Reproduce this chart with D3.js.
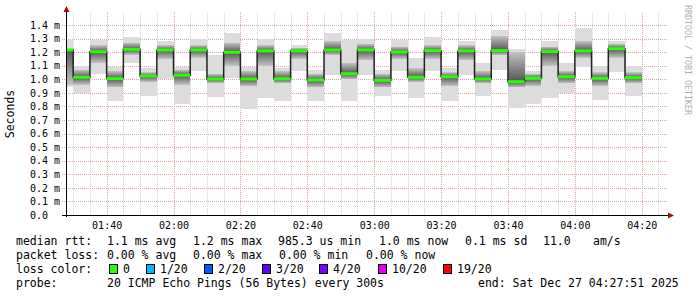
<!DOCTYPE html>
<html>
<head>
<meta charset="utf-8">
<script src="https://cdn.jsdelivr.net/npm/d3@7"></script>
<style>
  body { margin: 0; background: #fff; }
  svg text { font-family: "DejaVu Sans Mono", monospace; }
</style>
</head>
<body>
<div id="chart"></div>
<script>
// end time of each 5 minute step (UTC, Dec 27 2025)
var times = ["01:30","01:35","01:40","01:45","01:50","01:55","02:00","02:05","02:10","02:15",
             "02:20","02:25","02:30","02:35","02:40","02:45","02:50","02:55","03:00","03:05",
             "03:10","03:15","03:20","03:25","03:30","03:35","03:40","03:45","03:50","03:55",
             "04:00","04:05","04:10","04:15","04:20"];
// median rtt in ms
var median = [1.216,1.015,1.203,1.005,1.220,1.024,1.216,1.030,1.216,1.002,
              1.199,1.002,1.209,1.004,1.209,0.995,1.216,1.041,1.216,0.992,
              1.201,1.015,1.211,1.019,1.209,1.002,1.211,0.982,1.007,1.204,
              1.019,1.209,1.007,1.225,1.012];
// outer smoke range (min / max ping)
var smokeLo = [0.94,0.90,1.04,0.84,1.12,0.88,1.00,0.82,1.06,0.87,
               1.01,0.78,0.86,0.84,1.06,0.84,1.03,0.84,1.03,0.88,
               1.06,0.86,1.06,0.84,1.03,0.88,1.07,0.79,0.82,0.86,
               0.90,1.09,0.85,1.05,0.88];
var smokeHi = [1.29,1.10,1.29,1.09,1.31,1.08,1.28,1.09,1.30,1.18,
               1.34,1.09,1.30,1.08,1.25,1.07,1.34,1.29,1.30,1.07,
               1.29,1.16,1.31,1.08,1.28,1.12,1.36,1.22,1.06,1.28,
               1.12,1.38,1.10,1.28,1.10];
// denser inner part of the smoke
var coreLo = [0.96,0.96,1.12,0.94,1.18,0.98,1.15,0.96,1.16,0.97,
              1.10,0.95,1.10,0.97,1.15,0.94,1.18,1.00,1.14,0.94,
              1.15,0.98,1.15,0.95,1.14,0.97,1.18,0.94,0.95,1.10,
              0.97,1.16,0.95,1.16,0.97];
var coreHi = [1.22,1.07,1.25,1.06,1.27,1.05,1.25,1.07,1.25,1.04,
              1.27,1.06,1.25,1.06,1.23,1.04,1.28,1.12,1.26,1.04,
              1.24,1.08,1.25,1.05,1.25,1.06,1.32,1.20,1.04,1.24,
              1.06,1.28,1.05,1.26,1.05];
var yTicks = [0,0.1,0.2,0.3,0.4,0.5,0.6,0.7,0.8,0.9,1.0,1.1,1.2,1.3,1.4];
var lossColors = ["#26ff00","#00b8ff","#0059ff","#5e00ff","#7e00ff","#dd00ff","#ff0000"];
var lossLabels = ["0","1/20","2/20","3/20","4/20","10/20","19/20"];

var W = 697, H = 297;
var parse = function (s) { return new Date("2025-12-27T" + s + ":00Z"); };
var t0 = new Date("2025-12-27T01:27:51Z"), t1 = new Date("2025-12-27T04:27:51Z");

var svg = d3.select("#chart").append("svg").attr("width", W).attr("height", H);

var x = d3.scaleUtc().domain([t0, t1]).range([66, 668]);
var y = d3.scaleLinear().domain([0, 1.5]).range([215, 11.4]);

var bars = times.map(function (t, i) {
    var end = parse(t);
    var start = new Date(end.getTime() - 300000);
    if (start < t0) start = t0;
    return { x0: x(start), x1: x(end), med: median[i], lo: smokeLo[i], hi: smokeHi[i], clo: coreLo[i], chi: coreHi[i] };
});

// grid
var grid = svg.append("g");
var minor = d3.utcMinute.every(5).range(t0, t1);
grid.selectAll("line.v").data(minor).enter().append("line")
    .attr("x1", function (d) { return Math.round(x(d)) + 0.5; })
    .attr("x2", function (d) { return Math.round(x(d)) + 0.5; })
    .attr("y1", 215).attr("y2", 12)
    .attr("stroke", function (d) { return d.getUTCMinutes() % 20 == 0 ? "#e5a3a3" : "#d4d4d4"; })
    .attr("stroke-dasharray", "1,1");
grid.selectAll("line.h").data(yTicks.slice(1)).enter().append("line")
    .attr("x1", 62).attr("x2", 668)
    .attr("y1", function (d) { return Math.round(y(d)) + 0.5; })
    .attr("y2", function (d) { return Math.round(y(d)) + 0.5; })
    .attr("stroke", "#e5a3a3")
    .attr("stroke-dasharray", "1,1");

// smoke
var defs = svg.append("defs");
var smoke = svg.append("g").attr("shape-rendering", "crispEdges");
bars.forEach(function (b, i) {
    smoke.append("rect")
        .attr("x", b.x0).attr("width", b.x1 - b.x0)
        .attr("y", y(b.hi)).attr("height", y(b.lo) - y(b.hi))
        .attr("fill", "#dcdcdc");
    var f = (b.chi - b.med) / (b.chi - b.clo);
    var g = defs.append("linearGradient").attr("id", "g" + i)
        .attr("x1", 0).attr("x2", 0).attr("y1", 0).attr("y2", 1);
    g.append("stop").attr("offset", 0).attr("stop-color", "#c2c2c2");
    g.append("stop").attr("offset", f).attr("stop-color", "#555");
    g.append("stop").attr("offset", 1).attr("stop-color", "#c2c2c2");
    smoke.append("rect")
        .attr("x", b.x0).attr("width", b.x1 - b.x0)
        .attr("y", y(b.chi)).attr("height", y(b.clo) - y(b.chi))
        .attr("fill", "url(#g" + i + ")");
});

// median step line
var pts = [];
bars.forEach(function (b) { pts.push([b.x0, y(b.med)], [b.x1, y(b.med)]); });
svg.append("path").attr("d", d3.line()(pts))
    .attr("fill", "none").attr("stroke", "#222").attr("stroke-width", 1.5);
svg.selectAll("line.med").data(bars).enter().append("line")
    .attr("x1", function (d) { return d.x0; }).attr("x2", function (d) { return d.x1; })
    .attr("y1", function (d) { return y(d.med); }).attr("y2", function (d) { return y(d.med); })
    .attr("stroke", lossColors[0]).attr("stroke-width", 3);

// axes
svg.append("line").attr("x1", 66.5).attr("x2", 66.5).attr("y1", 217).attr("y2", 10)
    .attr("stroke", "#000");
svg.append("path").attr("d", "M63.5,12 L66.5,6 L69.5,12 Z").attr("fill", "#a01010");
svg.append("line").attr("x1", 62).attr("x2", 670).attr("y1", 215.5).attr("y2", 215.5)
    .attr("stroke", "#000");
svg.append("path").attr("d", "M668,212.5 L674,215.5 L668,218.5 Z").attr("fill", "#a01010");

var yAxis = d3.axisLeft(y).tickValues(yTicks).tickSize(0).tickPadding(0)
    .tickFormat(function (d) { return d == 0 ? "0.0" : d.toFixed(1) + " m"; });
svg.append("g").attr("transform", "translate(30,0)").call(yAxis)
    .call(function (g) { g.select(".domain").remove(); })
    .selectAll("text").attr("text-anchor", "start")
    .attr("font-size", 10).attr("font-family", "DejaVu Sans Mono").attr("fill", "#000");

var xAxis = d3.axisBottom(x).ticks(d3.utcMinute.every(20)).tickSize(0).tickPadding(0)
    .tickFormat(d3.utcFormat("%H:%M"));
svg.append("g").attr("transform", "translate(0,221.5)").call(xAxis)
    .call(function (g) { g.select(".domain").remove(); })
    .selectAll("text").attr("font-size", 10).attr("font-family", "DejaVu Sans Mono").attr("fill", "#000");

// titles
svg.append("text").attr("transform", "translate(14,114) rotate(-90)")
    .attr("text-anchor", "middle").attr("font-size", 11.5).text("Seconds");
svg.append("text").attr("transform", "translate(685,5) rotate(90)")
    .attr("font-size", 8.3).attr("fill", "#b0b0b0").text("RRDTOOL / TOBI OETIKER");

// legend
var fs = 11.5;
function put(txt, px, py) {
    svg.append("text").attr("x", px).attr("y", py).attr("font-size", fs)
        .attr("xml:space", "preserve").style("white-space", "pre").text(txt);
}
put("median rtt:", 16, 245);
put("1.1 ms avg", 107, 245);
put("1.2 ms max", 193, 245);
put("985.3 us min", 278, 245);
put("1.0 ms now", 379, 245);
put("0.1 ms sd", 465, 245);
put("11.0", 543, 245);
put("am/s", 593, 245);
put("packet loss:", 16, 259);
put("0.00 % avg", 107, 259);
put("0.00 % max", 193, 259);
put("0.00 % min", 279, 259);
put("0.00 % now", 366, 259);
put("loss color:", 16, 273);
var swX = [109, 146, 204, 262, 319, 378, 443];
lossLabels.forEach(function (l, i) {
    svg.append("rect").attr("x", swX[i] + 0.5).attr("y", 264.5).attr("width", 8).attr("height", 9)
        .attr("fill", lossColors[i]).attr("stroke", "#000");
    put(l, swX[i] + 14, 273);
});
put("probe:", 16, 287);
put("20 ICMP Echo Pings (56 Bytes) every 300s", 107, 287);
put("end: Sat Dec 27 04:27:51 2025", 478, 287);
</script>
</body>
</html>
